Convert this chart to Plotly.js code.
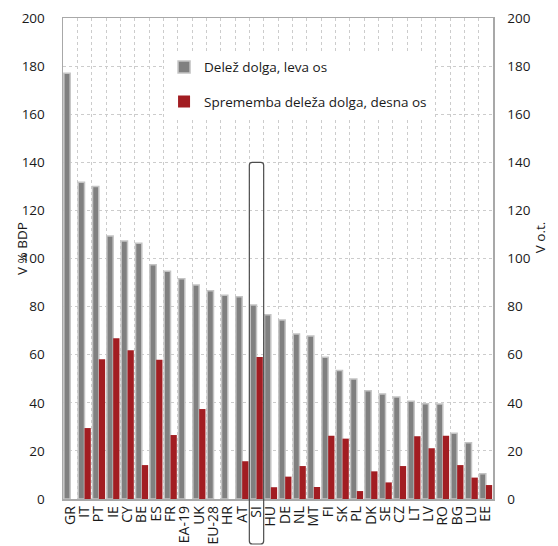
<!DOCTYPE html>
<html><head><meta charset="utf-8">
<script src="https://cdn.plot.ly/plotly-3.0.1.min.js"></script>
<style>html,body{margin:0;padding:0;background:#fff}#chart{width:558px;height:546px}</style>
</head><body><div id="chart"></div>
<script>
const categories = ["GR","IT","PT","IE","CY","BE","ES","FR","EA-19","UK","EU-28","HR","AT","SI","HU","DE","NL","MT","FI","SK","PL","DK","SE","CZ","LT","LV","RO","BG","LU","EE"];
const debtShare = [177,131.7,129.9,109.4,107.3,106.3,97.4,94.7,91.6,89.0,86.6,84.7,84.1,80.7,76.6,74.4,68.6,67.8,58.9,53.4,49.9,45.0,43.7,42.4,40.6,39.6,39.5,27.3,23.4,10.5];
const debtChange = [null,29.5,58.1,66.8,61.8,14.1,57.9,26.6,null,37.4,null,null,15.7,59.0,4.9,9.3,13.7,5.0,26.3,25.1,3.3,11.5,6.9,13.7,26.1,21.1,26.3,14.1,8.9,5.8];
const seriesNames = ["Delež dolga, leva os","Sprememba deleža dolga, desna os"];
const leftTitle = "V % BDP";
const rightTitle = "V o.t.";

const FONT = "Open Sans, sans-serif";
const traces = [
  {type:"bar", x:categories, y:debtShare, name:seriesNames[0], yaxis:"y",
   offsetgroup:"a", legendgroup:"a",
   marker:{color:"#808080", line:{color:"#c4c4c4", width:1.5}}},
  {type:"bar", x:categories, y:debtChange, name:seriesNames[1], yaxis:"y2",
   offsetgroup:"b", legendgroup:"b",
   marker:{color:"#a21d22", line:{width:0}}}
];

// rounded highlight box around SI
const x0 = 13/30, x1 = 14/30, yt = 0.7, yb = -0.0936, rx = 0.007, ry = 0.0063;
const p = `M${x0},${yb+ry} L${x0},${yt-ry} Q${x0},${yt} ${x0+rx},${yt} L${x1-rx},${yt} Q${x1},${yt} ${x1},${yt-ry} L${x1},${yb+ry} Q${x1},${yb} ${x1-rx},${yb} L${x0+rx},${yb} Q${x0},${yb} ${x0},${yb+ry} Z`;

const layout = {
  width:558, height:546,
  margin:{l:63, r:65, t:18, b:47},
  paper_bgcolor:"#fff", plot_bgcolor:"#fff",
  font:{family:FONT, size:13, color:"#1a1a1a"},
  barmode:"group", bargap:0.12, bargroupgap:0,
  showlegend:true,
  legend:{x:0.235, y:0.93, xanchor:"left", yanchor:"top", bgcolor:"#fff",
          font:{family:FONT, size:13.5, color:"#1a1a1a"},
          traceorder:"grouped", tracegroupgap:14},
  xaxis:{type:"category", tickmode:"linear", tick0:0, dtick:1, tickson:"boundaries",
         showgrid:true, gridcolor:"#cccccc", griddash:"dot",
         gridwidth:1, tickangle:-90, ticks:"", showline:true, mirror:true, linecolor:"#a8a8a8", linewidth:1.5,
         tickfont:{family:FONT, size:14, color:"#1a1a1a"}, fixedrange:true},
  yaxis:{range:[0,200], dtick:20, showgrid:true, gridcolor:"#cccccc", griddash:"dot", zeroline:false,
         showline:true, linecolor:"#a8a8a8", linewidth:1.5, ticks:"", ticklabelstandoff:14,
         tickfont:{family:FONT, size:13.5, color:"#1a1a1a"}},
  yaxis2:{range:[0,200], dtick:20, overlaying:"y", side:"right", showgrid:false, zeroline:false,
          showline:true, linecolor:"#a8a8a8", linewidth:1.5, ticks:"", ticklabelstandoff:10,
          tickfont:{family:FONT, size:13.5, color:"#1a1a1a"}},
  shapes:[{type:"path", xref:"paper", yref:"paper", path:p, line:{color:"#4d4d4d", width:1.2}, fillcolor:"rgba(0,0,0,0)", layer:"above"}],
  annotations:[
    {text:leftTitle, xref:"paper", yref:"paper", x:-0.095, y:0.52, textangle:-90, showarrow:false,
     xanchor:"center", yanchor:"middle", font:{family:FONT, size:13.5, color:"#1a1a1a"}},
    {text:rightTitle, xref:"paper", yref:"paper", x:1.108, y:0.545, textangle:-90, showarrow:false,
     xanchor:"center", yanchor:"middle", font:{family:FONT, size:13.5, color:"#1a1a1a"}}
  ]
};
Plotly.newPlot("chart", traces, layout, {displayModeBar:false, staticPlot:true});
</script></body></html>
